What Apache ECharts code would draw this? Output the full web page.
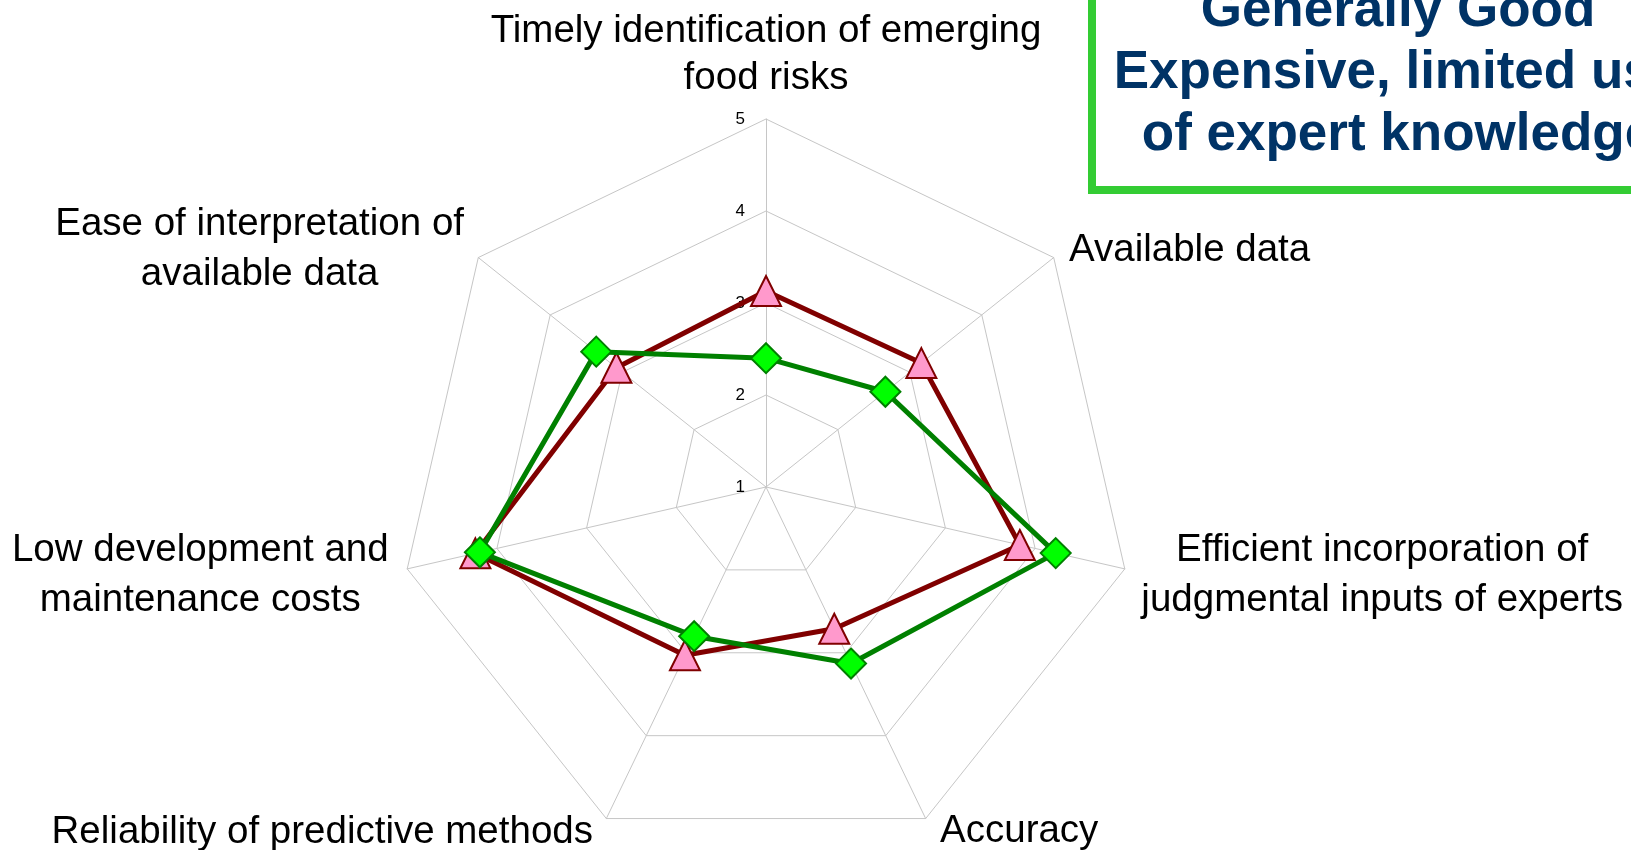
<!DOCTYPE html>
<html>
<head>
<meta charset="utf-8">
<style>
  html, body { margin: 0; padding: 0; background: #ffffff; }
  #chart { width: 1631px; height: 850px; }
</style>
<script src="https://cdn.jsdelivr.net/npm/echarts@6/dist/echarts.min.js"></script>
</head>
<body>
<div id="chart"></div>
<script>
// Criteria, listed counter-clockwise starting from the top axis
const criteria = [
  'Timely identification of emerging\nfood risks',
  'Ease of interpretation of\navailable data',
  'Low development and\nmaintenance costs',
  'Reliability of predictive methods',
  'Accuracy',
  'Efficient incorporation of\njudgmental inputs of experts',
  'Available data'
];

// Scores on the 1–5 scale, same order as criteria
const scoresTriangle = [3.13, 3.08, 4.24, 3.03, 2.71, 3.83, 3.16];
const scoresDiamond  = [2.40, 3.36, 4.19, 2.80, 3.13, 4.23, 2.66];

const scaleMin = 1;
const scaleMax = 5;

const boxLines = ['Generally Good', 'Expensive, limited use', 'of expert knowledge'];

const FONT = '"Liberation Sans", Arial, Helvetica, sans-serif';

// rich style key used for each criterion name (fine placement around the web)
const nameStyleKey = {
  'Timely identification of emerging\nfood risks': 'top',
  'Ease of interpretation of\navailable data': 'ease',
  'Low development and\nmaintenance costs': 'low',
  'Reliability of predictive methods': 'rel',
  'Accuracy': 'acc',
  'Efficient incorporation of\njudgmental inputs of experts': 'eff',
  'Available data': 'avail'
};

const chart = echarts.init(document.getElementById('chart'), null, { renderer: 'canvas' });

const indicators = criteria.map((name, i) => ({
  name: name,
  min: scaleMin,
  max: scaleMax,
  axisLabel: { show: i === 0 }
}));

function nameStyle(extra) {
  return Object.assign({
    fontSize: 38.5, lineHeight: 50, fontFamily: FONT, color: '#000000', align: 'center'
  }, extra);
}

const option = {
  backgroundColor: '#ffffff',
  animation: false,
  radar: {
    center: [766, 487],
    radius: 368,
    startAngle: 90,
    splitNumber: 4,
    shape: 'polygon',
    nameGap: 17,
    indicator: indicators,
    axisName: {
      color: '#000000',
      fontSize: 38.5,
      fontFamily: FONT,
      formatter: function (name) {
        const key = nameStyleKey[name] || 'top';
        return name.split('\n').map(l => '{' + key + '|' + l + '}').join('\n');
      },
      rich: {
        top: nameStyle({ lineHeight: 47 }),
        ease: nameStyle({ padding: [5, 1, 0, 0] }),
        low: nameStyle({ padding: [5, 2, 0, 0] }),
        rel: nameStyle({ padding: [0, 6, 3, 0] }),
        acc: nameStyle({ padding: [0, 0, 5, 7] }),
        eff: nameStyle({ padding: [5, 0, 0, 0] }),
        avail: nameStyle({ padding: [6, 0, 0, 2] })
      }
    },
    axisLine: { show: true, lineStyle: { color: '#c6c6c6', width: 1 } },
    splitLine: { show: true, lineStyle: { color: '#c6c6c6', width: 1 } },
    splitArea: { show: false },
    axisTick: { show: false },
    axisLabel: {
      fontSize: 17,
      fontFamily: FONT,
      color: '#000000',
      margin: 21
    }
  },
  series: [
    {
      type: 'radar',
      symbol: 'triangle',
      symbolSize: 30,
      z: 2,
      lineStyle: { color: '#800000', width: 5 },
      itemStyle: { color: '#ff99cc', borderColor: '#800000', borderWidth: 2 },
      data: [{ value: scoresTriangle, name: 'Triangle' }]
    },
    {
      type: 'radar',
      symbol: 'diamond',
      symbolSize: 30,
      z: 3,
      lineStyle: { color: '#008000', width: 5 },
      itemStyle: { color: '#00ff00', borderColor: '#008000', borderWidth: 2 },
      data: [{ value: scoresDiamond, name: 'Diamond' }]
    }
  ],
  graphic: [
    {
      type: 'group',
      z: 100,
      children: [
        {
          type: 'rect',
          shape: { x: 1092, y: -20, width: 700, height: 210 },
          style: { fill: '#ffffff', stroke: '#33cc33', lineWidth: 8 }
        },
        {
          type: 'text',
          x: 1398,
          y: 73,
          style: {
            text: boxLines.join('\n'),
            fill: '#003366',
            font: 'bold 53px ' + FONT,
            lineHeight: 62,
            textAlign: 'center',
            textVerticalAlign: 'middle'
          }
        }
      ]
    }
  ]
};

chart.setOption(option);
</script>
</body>
</html>
